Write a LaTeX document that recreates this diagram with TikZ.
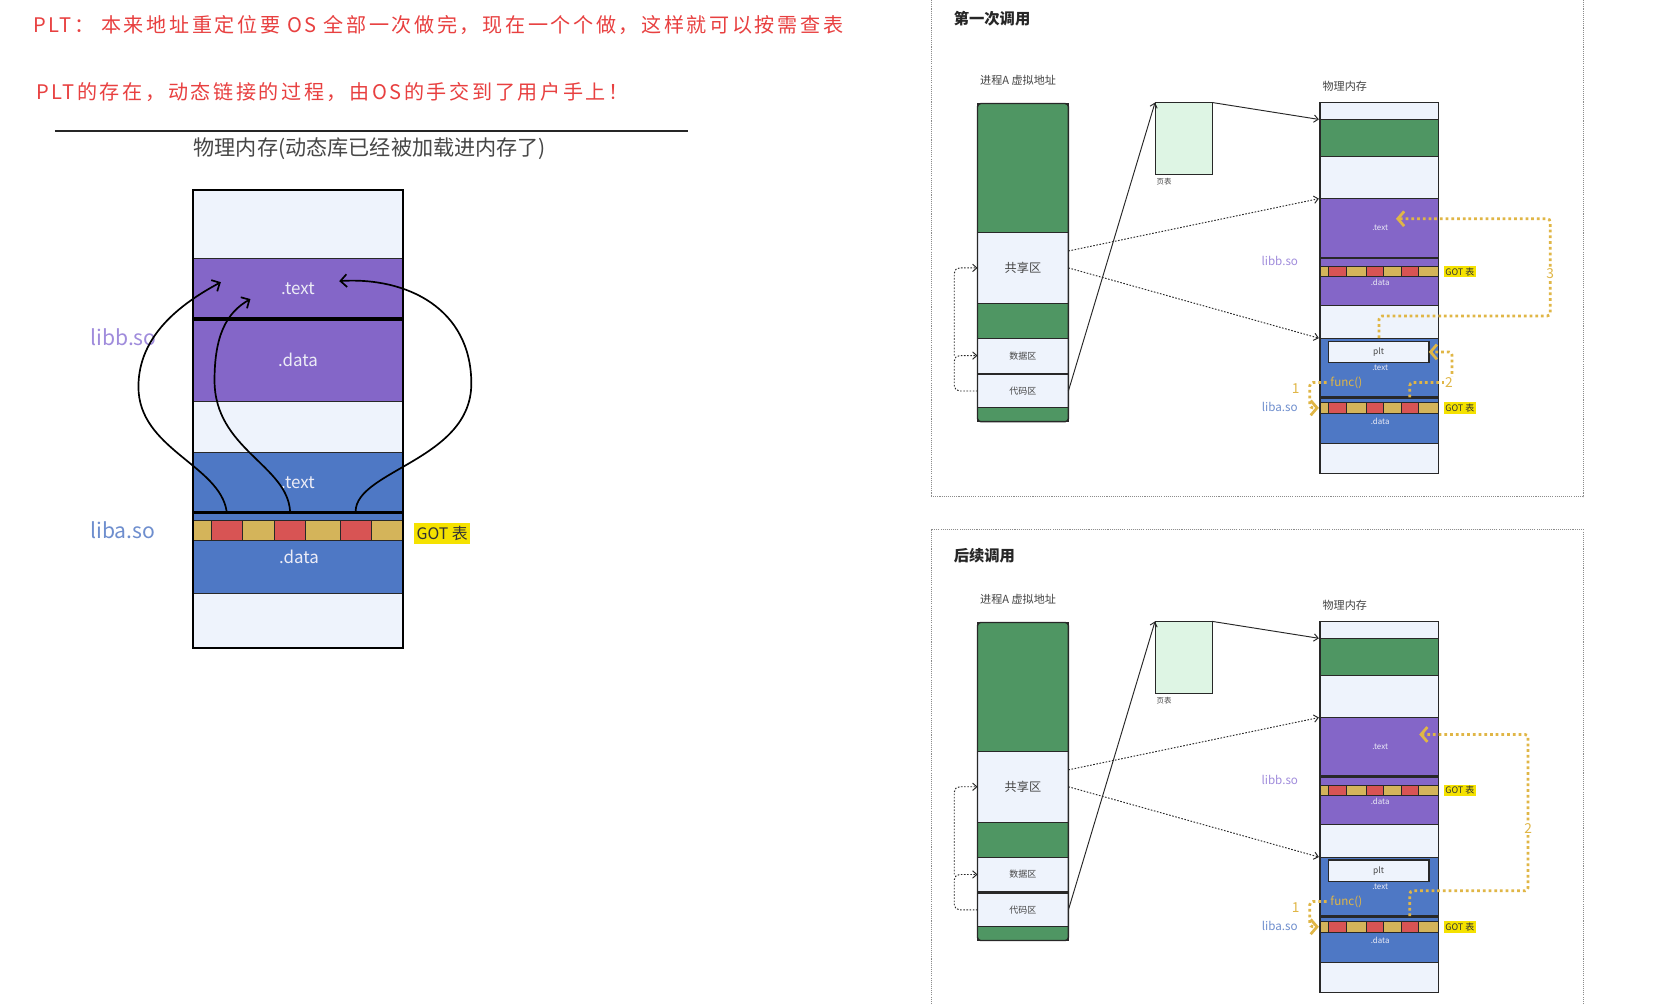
\documentclass[tikz,border=0pt]{standalone}
\usepackage{fontspec}
\setmainfont{Noto Sans CJK SC}
\newfontfamily\hand{Noto Sans CJK SC}[LetterSpace=13]
\usetikzlibrary{arrows.meta,calc}
\definecolor{lightc}{RGB}{238,243,252}
\definecolor{purp}{RGB}{132,102,200}
\definecolor{bluec}{RGB}{78,120,197}
\definecolor{greenc}{RGB}{79,150,99}
\definecolor{goldc}{RGB}{212,180,90}
\definecolor{redcell}{RGB}{216,84,84}
\definecolor{ptc}{RGB}{222,245,228}
\definecolor{noter}{RGB}{232,64,64}
\definecolor{arrgold}{RGB}{224,182,70}
\definecolor{gotbg}{RGB}{245,226,0}
\definecolor{libbc}{RGB}{160,140,220}
\definecolor{libac}{RGB}{110,142,206}
\definecolor{edge}{RGB}{40,40,40}
\definecolor{txtd}{RGB}{68,68,68}
\definecolor{lbltxt}{RGB}{236,236,246}
\newcommand{\fsz}[1]{\fontsize{#1}{#1}\selectfont}
\newcommand{\mkbox}[7]{\node[secbox,#6,anchor=north west,minimum width={((#4)-(#2))*1pt},minimum height={((#5)-(#3))*1pt}] (#1) at (#2,#3) {#7};}
\tikzset{
  secbox/.style={draw=edge, line width=0.8pt, inner sep=0pt, outer sep=0pt},
  bigarr/.style={line width=1.6pt, black, -{Straight Barb[length=6pt,width=12pt]}},
  blkarr/.style={line width=0.9pt, edge, -{Straight Barb[length=4pt,width=7pt]}},
  dotarr/.style={line width=0.9pt, edge, dash pattern=on 1.5pt off 1.5pt, -{Straight Barb[length=4pt,width=7pt]}},
  goldarr/.style={line width=2.6pt, arrgold, dash pattern=on 2.6pt off 2.8pt, -{Straight Barb[length=6pt,width=14pt]}},
  gotlbl/.style={anchor=west, fill=gotbg, text=black!80, font=\fsz{8.5}, inner sep=1.5pt},
  numlbl/.style={text=arrgold, font=\fsz{13}, inner sep=1pt},
  panelbox/.style={draw=black!45, line width=0.8pt, dash pattern=on 1pt off 1pt},
  ptitle/.style={anchor=west, font=\bfseries\fsz{14.5}, text=black!85},
  smlbl/.style={font=\fsz{7.5}, text=lbltxt}
}
\newcommand{\panel}[2]{%
\begin{scope}[yshift=-#2pt]
\node[anchor=west, font=\fsz{10.5}, text=txtd] (#1vlab) at (924,76) {进程A 虚拟地址};
\node[anchor=west, font=\fsz{10.5}, text=txtd] (#1plab) at (1248,82) {物理内存};
% virtual address space
\mkbox{#1v1}{925}{98}{1011}{220}{fill=greenc}{}
\mkbox{#1share}{925}{220}{1011}{287}{fill=lightc,font=\fsz{11.5},text=txtd}{共享区}
\mkbox{#1v2}{925}{287}{1011}{320}{fill=greenc}{}
\mkbox{#1data}{925}{320}{1011}{353}{fill=lightc,font=\fsz{8.5},text=txtd}{数据区}
\mkbox{#1code}{925}{354}{1011}{386}{fill=lightc,font=\fsz{8.5},text=txtd}{代码区}
\mkbox{#1v3}{925}{386}{1011}{399}{fill=greenc}{}
\draw[edge, line width=2pt] (925,353.5) -- (1011,353.5);
\draw[edge, line width=1.3pt, rounded corners=3pt] (925,98) rectangle (1011,399);
% page table
\mkbox{#1pt}{1093}{97}{1147}{165}{fill=ptc}{}
\node[anchor=west, font=\fsz{7}, text=txtd] (#1ptlab) at (1091,172) {页表};
% physical memory
\mkbox{#1p1}{1249}{97}{1361}{113}{fill=lightc}{}
\mkbox{#1p2}{1249}{113}{1361}{148}{fill=greenc}{}
\mkbox{#1p3}{1249}{148}{1361}{188}{fill=lightc}{}
\mkbox{#1pb}{1249}{188}{1361}{289}{fill=purp}{}
\mkbox{#1p5}{1249}{289}{1361}{320}{fill=lightc}{}
\mkbox{#1pa}{1249}{320}{1361}{420}{fill=bluec}{}
\mkbox{#1p7}{1249}{420}{1361}{448}{fill=lightc}{}
\draw[edge, line width=2.5pt] (1249,244) -- (1361,244);
\draw[edge, line width=2.5pt] (1249,376) -- (1361,376);
\foreach \xa/\xb/\cc [count=\i] in {1249/1257/goldc,1257/1274/redcell,1274/1293/goldc,1293/1309/redcell,1309/1326/goldc,1326/1342/redcell,1342/1361/goldc}{
  \mkbox{#1gb\i}{\xa}{252}{\xb}{262}{fill=\cc}{}
  \mkbox{#1ga\i}{\xa}{381}{\xb}{391}{fill=\cc}{}
}
\mkbox{#1plt}{1257}{323}{1352}{343}{fill=lightc,line width=1.5pt,font=\fsz{8},text=txtd}{plt}
\draw[edge, line width=1.2pt] (1249,97) rectangle (1361,448);
\node[smlbl] (#1tb) at (1306,216) {.text};
\node[smlbl] (#1db) at (1306,267) {.data};
\node[smlbl] (#1ta) at (1306,348) {.text};
\node[smlbl] (#1da) at (1306,399) {.data};
\node[font=\fsz{11}, text=arrgold] (#1func) at (1274,362) {func()};
\node[font=\fsz{11}, text=libbc] (#1libb) at (1211,247) {libb.so};
\node[font=\fsz{11}, text=libac] (#1liba) at (1211,385) {liba.so};
\node[gotlbl] (#1gotb) at (1366,257) {GOT 表};
\node[gotlbl] (#1gota) at (1366,386) {GOT 表};
\node[numlbl] (#1n1) at (1226,368) {1};
% connectors
\draw[blkarr] (#1code.east) -- (#1pt.north west);
\draw[blkarr] (#1pt.north east) -- ($(#1p1.south west)+(-1,0)$);
\draw[dotarr] ($(#1share.east)+(0,-16)$) -- ($(#1pb.north west)+(-1,0)$);
\draw[dotarr] (#1share.east) -- ($(#1pa.north west)+(-1,0)$);
\draw[dotarr, rounded corners=5pt] (#1code.west) -- ++(-22,0) |- (#1data.west);
\draw[dotarr, rounded corners=5pt] ($(#1data.west)+(-22,0)$) |- (#1share.west);
\draw[goldarr, rounded corners=3pt] (#1func.west) -- ++(-16,0) |- ($(#1ga1.west)+(-1,0)$);
\end{scope}}

\begin{document}
\begin{tikzpicture}[x=1pt,y=-1pt]
\useasboundingbox (0,0) rectangle (1568,950);
\fill[white] (0,0) rectangle (1568,950);
% notes
\node[anchor=west, text=noter, font=\hand\fsz{19}] (note1) at (28,24) {PLT： 本来地址重定位要 OS 全部一次做完，现在一个个做，这样就可以按需查表};
\node[anchor=west, text=noter, font=\hand\fsz{19}] (note2) at (31,87) {PLT的存在，动态链接的过程，由OS的手交到了用户手上！};
% left diagram
\draw[line width=2pt, black!85] (52,124) -- (651,124);
\node[font=\fsz{20}, text=black!72] (ltitle) at (350,141) {物理内存(动态库已经被加载进内存了)};
\mkbox{Ltop}{183}{180}{381}{245}{fill=lightc}{}
\mkbox{Lbt}{183}{245}{381}{302}{fill=purp,font=\fsz{16},text=lbltxt}{.text}
\mkbox{Lbd}{183}{302}{381}{380}{fill=purp,font=\fsz{16},text=lbltxt}{.data}
\mkbox{Lmid}{183}{380}{381}{428}{fill=lightc}{}
\mkbox{Lat}{183}{428}{381}{485}{fill=bluec,font=\fsz{16},text=lbltxt}{.text}
\mkbox{Lstrip}{183}{485}{381}{492}{fill=bluec}{}
\foreach \xa/\xb/\cc [count=\i] in {183/200/goldc,200/229/redcell,229/260/goldc,260/289/redcell,289/322/goldc,322/351/redcell,351/381/goldc}{
  \mkbox{Lg\i}{\xa}{492}{\xb}{511}{fill=\cc}{}
}
\mkbox{Lad}{183}{511}{381}{562}{fill=bluec}{}
\mkbox{Lbot}{183}{562}{381}{613}{fill=lightc}{}
\node[font=\fsz{16}, text=lbltxt] (Ladl) at (283,527) {.data};
\draw[black, line width=3.5pt] (183,302) -- (381,302);
\draw[black, line width=3pt] (183,485) -- (381,485);
\draw[black, line width=1.8pt] (183,180) rectangle (381,613);
\node[anchor=west, font=\fsz{20}, text=libbc] (Llibb) at (82,319) {libb.so};
\node[anchor=west, font=\fsz{20}, text=libac] (Lliba) at (82,502) {liba.so};
\node[anchor=west, fill=gotbg, text=black!80, font=\fsz{15}, inner sep=2pt, minimum height=20pt] (Lgot) at (392,505) {GOT 表};
\coordinate (eA) at (209,267);
\coordinate (eB) at (237,283);
\coordinate (eC) at (321,266);
\draw[bigarr] ($(Lg2.north)+(0,-8)$) .. controls (208,440) and (131,425) .. (131,366) .. controls (131,318) and (170,288) .. (eA);
\draw[bigarr] ($(Lg4.north)+(0,-8)$) .. controls (272,440) and (203,425) .. (203,360) .. controls (203,318) and (214,296) .. (eB);
\draw[bigarr] ($(Lg6.north)+(0,-8)$) .. controls (337,445) and (446,435) .. (446,363) .. controls (446,292) and (385,262) .. (eC);
% right panels
\draw[panelbox] (881,-10) rectangle (1498,470);
\draw[panelbox] (881,501) rectangle (1498,960);
\node[ptitle] (t1) at (899,18) {第一次调用};
\node[ptitle] (t2) at (899,526) {后续调用};
\panel{A}{0}
\panel{B}{491}
% panel-specific gold arrows
\draw[goldarr, rounded corners=3pt] ($(Aga6.north)+(0,-5)$) |- (1374,362) |- (Aplt.east);
\node[numlbl, fill=white] (An2) at (1371,362) {2};
\draw[goldarr, rounded corners=3pt] (Apa.north) |- (1467,299) |- (1321,207);
\node[numlbl, fill=white] (An3) at (1467,259) {3};
\draw[goldarr, rounded corners=3pt] ($(Bga6.north)+(0,-5)$) |- (1446,843) |- (1343,695);
\node[numlbl, fill=white] (Bn2) at (1446,784) {2};
\end{tikzpicture}
\end{document}
